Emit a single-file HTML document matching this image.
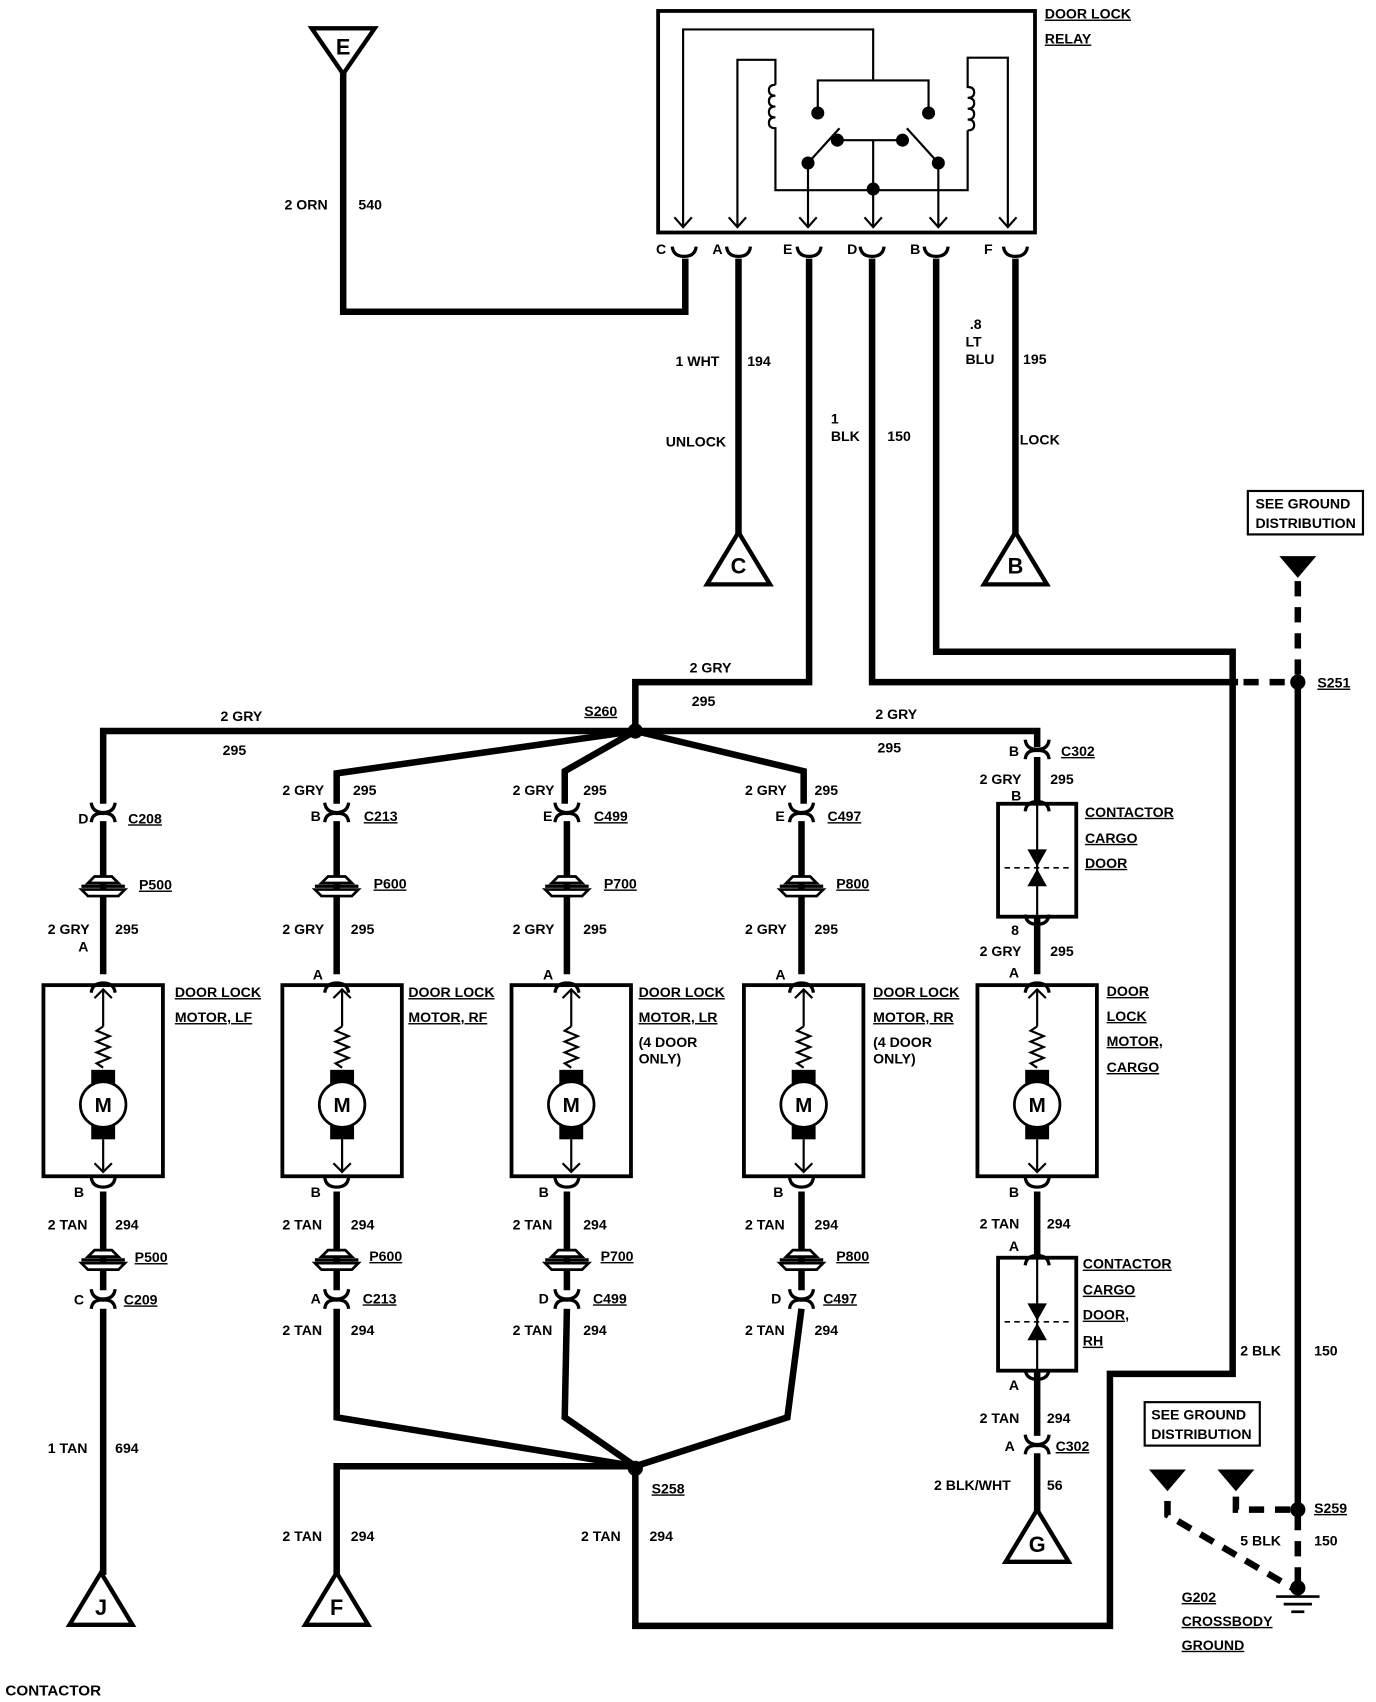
<!DOCTYPE html>
<html><head><meta charset="utf-8"><style>
html,body{margin:0;padding:0;background:#fff;}
svg{display:block;}
text{font-family:"Liberation Sans",sans-serif;font-weight:bold;font-size:13px;fill:#000;}
.u{text-decoration:underline;}
</style></head><body>
<svg width="1376" height="1702" viewBox="0 0 1267 1567" xmlns="http://www.w3.org/2000/svg">
<defs>
<g id="cup" fill="none" stroke="#000" stroke-width="3">
 <path d="M-11,-9 Q-10,0 0,0 Q10,0 11,-9"/>
 <path d="M-11,9 Q-10,0 0,1 Q10,0 11,9"/>
</g>
<g id="cupT" fill="none" stroke="#000" stroke-width="3">
 <path d="M-11,-9 Q-10,0 0,0 Q10,0 11,-9"/>
</g>
<g id="cupB" fill="none" stroke="#000" stroke-width="3">
 <path d="M-11,9 Q-10,0 0,0 Q10,0 11,9"/>
</g>
<g id="pill" stroke="#000" fill="#fff">
 <path d="M-14,-3 L-8,-9 L8,-9 L14,-3 Z" stroke-width="2.5"/>
 <path d="M-20,3 L-14,9 L14,9 L20,3 Z" stroke-width="2.5"/>
 <line x1="-20" y1="0" x2="20" y2="0" stroke-width="3"/>
</g>
<g id="motor">
 <rect x="-55" y="0" width="110" height="176" fill="none" stroke="#000" stroke-width="3.5"/>
 <line x1="0" y1="4" x2="0" y2="38" stroke="#000" stroke-width="2"/>
 <path d="M-8,12 L0,4 L8,12" fill="none" stroke="#000" stroke-width="2"/>
 <path d="M0,38 L-6,42 L6,47 L-6,52 L6,57 L-6,62 L6,67 L-6,72 L0,76" fill="none" stroke="#000" stroke-width="2"/>
 <rect x="-11" y="78" width="22" height="14" fill="#000"/>
 <rect x="-11" y="128" width="22" height="14" fill="#000"/>
 <circle cx="0" cy="110" r="21" fill="#fff" stroke="#000" stroke-width="2.5"/>
 <text x="0" y="117" text-anchor="middle" style="font-size:19px">M</text>
 <line x1="0" y1="142" x2="0" y2="172" stroke="#000" stroke-width="2"/>
 <path d="M-8,164 L0,172 L8,164" fill="none" stroke="#000" stroke-width="2"/>
</g>
<g id="cont">
 <rect x="-36" y="0" width="72" height="104" fill="none" stroke="#000" stroke-width="3.5"/>
 <line x1="0" y1="0" x2="0" y2="104" stroke="#000" stroke-width="2"/>
 <path d="M-9,42 L9,42 L0,58 Z" fill="#000"/>
 <path d="M-9,76 L9,76 L0,60 Z" fill="#000"/>
 <line x1="-30" y1="59" x2="30" y2="59" stroke="#000" stroke-width="1.5" stroke-dasharray="5,4"/>
</g>
</defs>

<!-- relay -->
<rect x="606" y="10" width="347" height="204" fill="none" stroke="#000" stroke-width="3.5"/>
<g fill="none" stroke="#000" stroke-width="2">
 <path d="M629,208 L629,27 L804,27 L804,74"/>
 <path d="M753,104 L753,74 L855,74 L855,104"/>
 <path d="M679,208 L679,55 L714,55 L714,78"/>
 <path d="M714,78 q-6,0 -6,5 q0,5 6,5 q-6,0 -6,5 q0,5 6,5 q-6,0 -6,5 q0,5 6,5 q-6,0 -6,5 q0,5 6,5 L714,175 L891,175 L891,120"/>
 <path d="M891,120 q6,0 6,-5 q0,-5 -6,-5 q6,0 6,-5 q0,-5 -6,-5 q6,0 6,-5 q0,-5 -6,-5 q6,0 6,-5 q0,-5 -6,-5 L891,53 L928,53 L928,208"/>
 <path d="M804,129 L804,208"/>
 <path d="M771,129 L831,129"/>
 <path d="M744,150 L744,208"/><path d="M864,150 L864,208"/>
 <path d="M744,150 L773,118"/><path d="M864,150 L835,118"/>
 <path d="M621,200 L629,209 L637,200"/><path d="M671,200 L679,209 L687,200"/>
 <path d="M736,200 L744,209 L752,200"/><path d="M796,200 L804,209 L812,200"/>
 <path d="M856,200 L864,209 L872,200"/><path d="M920,200 L928,209 L936,200"/>
</g>
<g fill="#000">
 <circle cx="753" cy="104" r="6"/><circle cx="855" cy="104" r="6"/>
 <circle cx="771" cy="129" r="6"/><circle cx="831" cy="129" r="6"/>
 <circle cx="744" cy="150" r="6"/><circle cx="864" cy="150" r="6"/>
 <circle cx="804" cy="174" r="6"/>
</g>
<text x="962" y="17" class="u">DOOR LOCK</text>
<text x="962" y="40" class="u">RELAY</text>
<g>
 <use href="#cupT" x="630" y="236"/><use href="#cupT" x="680" y="236"/>
 <use href="#cupT" x="745" y="236"/><use href="#cupT" x="803" y="236"/>
 <use href="#cupT" x="862" y="236"/><use href="#cupT" x="935" y="236"/>
</g>
<text x="604" y="234">C</text><text x="656" y="234">A</text><text x="721" y="234">E</text>
<text x="780" y="234">D</text><text x="838" y="234">B</text><text x="906" y="234">F</text>

<!-- heavy wires -->
<g fill="none" stroke="#000" stroke-width="6" stroke-linejoin="miter">
 <path d="M316,66 L316,287 L631,287 L631,238"/>
 <path d="M680,238 L680,492"/>
 <path d="M745,238 L745,628 L585,628 L585,673"/>
 <path d="M803,238 L803,628 L1140,628"/>
 <path d="M862,238 L862,600 L1135,600 L1135,1265 L1022,1265 L1022,1497 L585,1497 L585,1352"/>
 <path d="M935,238 L935,492"/>
 <path d="M1195,628 L1195,1388"/>
 <path d="M95,740 L95,673 L955,673 L955,688"/>
 <path d="M585,673 L310,712 L310,740"/>
 <path d="M585,673 L520,710 L520,740"/>
 <path d="M585,673 L740,710 L740,740"/>
 <!-- columns -->
 <path d="M95,756 L95,897"/><path d="M310,756 L310,897"/><path d="M522,756 L522,897"/><path d="M738,756 L738,897"/>
 <path d="M95,1097 L95,1188"/><path d="M310,1097 L310,1188"/><path d="M522,1097 L522,1188"/><path d="M738,1097 L738,1188"/>
 <path d="M95,1205 L95,1450"/>
 <path d="M310,1205 L310,1305 L585,1350"/>
 <path d="M522,1205 L520,1305 L585,1350"/>
 <path d="M738,1205 L725,1305 L585,1350"/>
 <path d="M585,1350 L310,1350 L310,1450"/>
 <!-- col5 -->
 <path d="M955,697 L955,740"/><path d="M955,845 L955,897"/><path d="M955,1097 L955,1158"/>
 <path d="M955,1262 L955,1322"/><path d="M955,1338 L955,1392"/>
</g>
<!-- dashed grounds -->
<g fill="none" stroke="#000" stroke-width="6" stroke-dasharray="14,10">
 <path d="M1145,628 L1190,628"/>
 <path d="M1195,535 L1195,625"/>
 <path d="M1195,1395 L1195,1460"/>
 <path d="M1075,1382 L1075,1395 L1190,1462"/>
 <path d="M1138,1378 L1138,1390 L1190,1390"/>
</g>
<g fill="#000">
 <circle cx="585" cy="673" r="7"/><circle cx="1195" cy="628" r="7"/>
 <circle cx="585" cy="1352" r="7"/><circle cx="1195" cy="1390" r="7"/>
 <circle cx="1195" cy="1462" r="7"/>
 <path d="M1178,512 L1212,512 L1195,532 Z"/>
 <path d="M1058,1353 L1092,1353 L1075,1373 Z"/>
 <path d="M1121,1353 L1155,1353 L1138,1373 Z"/>
</g>
<g stroke="#000" stroke-width="2.5">
 <line x1="1175" y1="1470" x2="1215" y2="1470"/><line x1="1182" y1="1477" x2="1208" y2="1477"/><line x1="1189" y1="1484" x2="1201" y2="1484"/>
</g>

<!-- triangles -->
<g fill="#fff" stroke="#000" stroke-width="4">
 <path d="M287,26 L345,26 L316,68 Z"/>
 <path d="M680,490 L651,538 L709,538 Z"/>
 <path d="M935,490 L906,538 L964,538 Z"/>
 <path d="M93,1448 L64,1496 L122,1496 Z"/>
 <path d="M310,1448 L281,1496 L339,1496 Z"/>
 <path d="M955,1390 L926,1438 L984,1438 Z"/>
</g>
<g style="font-size:20px">
 <text x="316" y="50" text-anchor="middle" style="font-size:20px">E</text>
 <text x="680" y="528" text-anchor="middle" style="font-size:20px">C</text>
 <text x="935" y="528" text-anchor="middle" style="font-size:20px">B</text>
 <text x="93" y="1487" text-anchor="middle" style="font-size:20px">J</text>
 <text x="310" y="1487" text-anchor="middle" style="font-size:20px">F</text>
 <text x="955" y="1429" text-anchor="middle" style="font-size:20px">G</text>
</g>

<!-- ground boxes -->
<rect x="1149" y="452" width="106" height="40" fill="none" stroke="#000" stroke-width="2"/>
<text x="1156" y="468">SEE GROUND</text><text x="1156" y="486">DISTRIBUTION</text>
<rect x="1054" y="1291" width="106" height="40" fill="none" stroke="#000" stroke-width="2"/>
<text x="1060" y="1307">SEE GROUND</text><text x="1060" y="1325">DISTRIBUTION</text>

<!-- upper labels -->
<text x="262" y="193">2 ORN</text><text x="330" y="193">540</text>
<text x="622" y="337">1 WHT</text><text x="688" y="337">194</text>
<text x="613" y="411">UNLOCK</text>
<text x="765" y="390">1</text><text x="765" y="406">BLK</text><text x="817" y="406">150</text>
<text x="893" y="303">.8</text><text x="889" y="319">LT</text><text x="889" y="335">BLU</text><text x="942" y="335">195</text>
<text x="939" y="409">LOCK</text>
<text x="635" y="619">2 GRY</text><text x="637" y="650">295</text>
<text x="1213" y="633" class="u">S251</text>
<text x="538" y="659" class="u">S260</text>
<text x="203" y="664">2 GRY</text><text x="205" y="695">295</text>
<text x="806" y="662">2 GRY</text><text x="808" y="693">295</text>
<text x="1142" y="1248">2 BLK</text><text x="1210" y="1248">150</text>
<text x="1210" y="1393" class="u">S259</text>
<text x="1142" y="1423">5 BLK</text><text x="1210" y="1423">150</text>
<text x="1088" y="1475" class="u">G202</text>
<text x="1088" y="1497" class="u">CROSSBODY</text>
<text x="1088" y="1519" class="u">GROUND</text>
<text x="5" y="1561" style="font-size:14px">CONTACTOR</text>
<text x="600" y="1375" class="u">S258</text>

<!-- columns 1-4 -->
<g>
 <use href="#cup" x="95" y="748"/><use href="#pill" x="95" y="816"/><use href="#cupB" x="95" y="905"/>
 <use href="#motor" x="95" y="907"/><use href="#cupT" x="95" y="1093"/><use href="#pill" x="95" y="1160"/><use href="#cup" x="95" y="1196"/>
 <use href="#cup" x="310" y="748"/><use href="#pill" x="310" y="816"/><use href="#cupB" x="310" y="905"/>
 <use href="#motor" x="315" y="907"/><use href="#cupT" x="310" y="1093"/><use href="#pill" x="310" y="1160"/><use href="#cup" x="310" y="1196"/>
 <use href="#cup" x="522" y="748"/><use href="#pill" x="522" y="816"/><use href="#cupB" x="522" y="905"/>
 <use href="#motor" x="526" y="907"/><use href="#cupT" x="522" y="1093"/><use href="#pill" x="522" y="1160"/><use href="#cup" x="522" y="1196"/>
 <use href="#cup" x="738" y="748"/><use href="#pill" x="738" y="816"/><use href="#cupB" x="738" y="905"/>
 <use href="#motor" x="740" y="907"/><use href="#cupT" x="738" y="1093"/><use href="#pill" x="738" y="1160"/><use href="#cup" x="738" y="1196"/>
 <!-- col5 -->
 <use href="#cup" x="955" y="690"/><use href="#cupB" x="955" y="738"/>
 <use href="#cont" x="955" y="740"/><use href="#cupT" x="955" y="851"/>
 <use href="#cupB" x="955" y="905"/><use href="#motor" x="955" y="907"/>
 <use href="#cupT" x="955" y="1093"/><use href="#cupB" x="955" y="1156"/>
 <use href="#cont" x="955" y="1158"/><use href="#cupT" x="955" y="1270"/>
 <use href="#cup" x="955" y="1330"/>
</g>
<!-- col1 labels -->
<text x="72" y="758">D</text><text x="118" y="758" class="u">C208</text>
<text x="128" y="819" class="u">P500</text>
<text x="44" y="860">2 GRY</text><text x="106" y="860">295</text>
<text x="72" y="876">A</text>
<text x="161" y="918" class="u">DOOR LOCK</text><text x="161" y="941" class="u">MOTOR, LF</text>
<text x="68" y="1102">B</text>
<text x="44" y="1132">2 TAN</text><text x="106" y="1132">294</text>
<text x="124" y="1162" class="u">P500</text>
<text x="68" y="1201">C</text><text x="114" y="1201" class="u">C209</text>
<text x="44" y="1338">1 TAN</text><text x="106" y="1338">694</text>
<!-- col2 -->
<text x="260" y="732">2 GRY</text><text x="325" y="732">295</text>
<text x="286" y="756">B</text><text x="335" y="756" class="u">C213</text>
<text x="344" y="818" class="u">P600</text>
<text x="260" y="860">2 GRY</text><text x="323" y="860">295</text>
<text x="288" y="902">A</text>
<text x="376" y="918" class="u">DOOR LOCK</text><text x="376" y="941" class="u">MOTOR, RF</text>
<text x="286" y="1102">B</text>
<text x="260" y="1132">2 TAN</text><text x="323" y="1132">294</text>
<text x="340" y="1161" class="u">P600</text>
<text x="286" y="1200">A</text><text x="334" y="1200" class="u">C213</text>
<text x="260" y="1229">2 TAN</text><text x="323" y="1229">294</text>
<text x="260" y="1419">2 TAN</text><text x="323" y="1419">294</text>
<!-- col3 -->
<text x="472" y="732">2 GRY</text><text x="537" y="732">295</text>
<text x="500" y="756">E</text><text x="547" y="756" class="u">C499</text>
<text x="556" y="818" class="u">P700</text>
<text x="472" y="860">2 GRY</text><text x="537" y="860">295</text>
<text x="500" y="902">A</text>
<text x="588" y="918" class="u">DOOR LOCK</text><text x="588" y="941" class="u">MOTOR, LR</text>
<text x="588" y="964">(4 DOOR</text><text x="588" y="979">ONLY)</text>
<text x="496" y="1102">B</text>
<text x="472" y="1132">2 TAN</text><text x="537" y="1132">294</text>
<text x="553" y="1161" class="u">P700</text>
<text x="496" y="1200">D</text><text x="546" y="1200" class="u">C499</text>
<text x="472" y="1229">2 TAN</text><text x="537" y="1229">294</text>
<text x="535" y="1419">2 TAN</text><text x="598" y="1419">294</text>
<!-- col4 -->
<text x="686" y="732">2 GRY</text><text x="750" y="732">295</text>
<text x="714" y="756">E</text><text x="762" y="756" class="u">C497</text>
<text x="770" y="818" class="u">P800</text>
<text x="686" y="860">2 GRY</text><text x="750" y="860">295</text>
<text x="714" y="902">A</text>
<text x="804" y="918" class="u">DOOR LOCK</text><text x="804" y="941" class="u">MOTOR, RR</text>
<text x="804" y="964">(4 DOOR</text><text x="804" y="979">ONLY)</text>
<text x="712" y="1102">B</text>
<text x="686" y="1132">2 TAN</text><text x="750" y="1132">294</text>
<text x="770" y="1161" class="u">P800</text>
<text x="710" y="1200">D</text><text x="758" y="1200" class="u">C497</text>
<text x="686" y="1229">2 TAN</text><text x="750" y="1229">294</text>
<!-- col5 -->
<text x="929" y="696">B</text><text x="977" y="696" class="u">C302</text>
<text x="902" y="722">2 GRY</text><text x="967" y="722">295</text>
<text x="931" y="737">B</text>
<text x="999" y="752" class="u">CONTACTOR</text><text x="999" y="776" class="u">CARGO</text><text x="999" y="799" class="u">DOOR</text>
<text x="931" y="861">8</text>
<text x="902" y="880">2 GRY</text><text x="967" y="880">295</text>
<text x="929" y="900">A</text>
<text x="1019" y="917" class="u">DOOR</text><text x="1019" y="940" class="u">LOCK</text><text x="1019" y="963" class="u">MOTOR,</text><text x="1019" y="987" class="u">CARGO</text>
<text x="929" y="1102">B</text>
<text x="902" y="1131">2 TAN</text><text x="964" y="1131">294</text>
<text x="929" y="1152">A</text>
<text x="997" y="1168" class="u">CONTACTOR</text><text x="997" y="1192" class="u">CARGO</text><text x="997" y="1215" class="u">DOOR,</text><text x="997" y="1239" class="u">RH</text>
<text x="929" y="1280">A</text>
<text x="902" y="1310">2 TAN</text><text x="964" y="1310">294</text>
<text x="925" y="1336">A</text><text x="972" y="1336" class="u">C302</text>
<text x="860" y="1372">2 BLK/WHT</text><text x="964" y="1372">56</text>
</svg>
</body></html>
